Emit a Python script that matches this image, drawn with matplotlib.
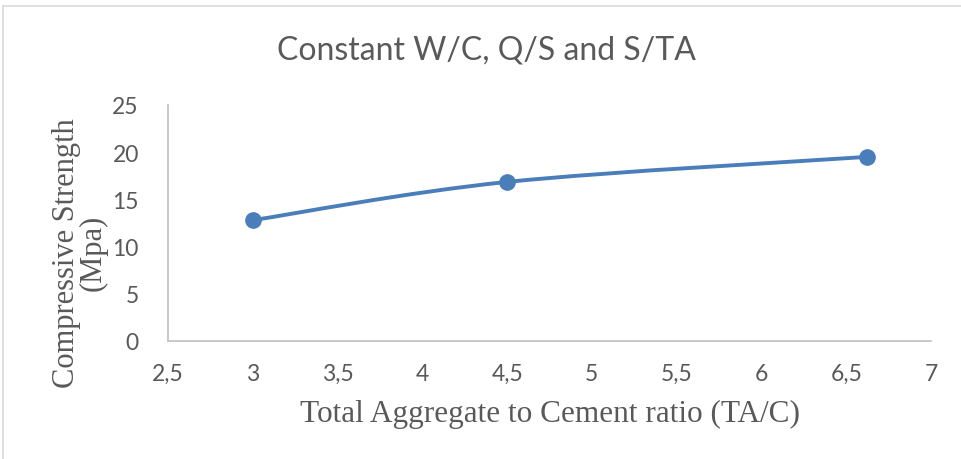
import numpy as np
import matplotlib
matplotlib.use('Agg')
import matplotlib.pyplot as plt
from matplotlib.path import Path
from matplotlib.patches import PathPatch
from matplotlib.lines import Line2D
from matplotlib.ticker import FuncFormatter

# data
ratio = [3.0, 4.5, 6.62]
strength = [12.8, 16.85, 19.5]
xticks = [2.5, 3, 3.5, 4, 4.5, 5, 5.5, 6, 6.5, 7]
yticks = [0, 5, 10, 15, 20, 25]

blue = '#4a7ebb'
grey = '#595959'

fig = plt.figure(figsize=(9.61, 4.6), dpi=100)
ax = fig.add_axes([168/961, 1 - 342/460, (931 - 168)/961, (342 - 106)/460])

# smoothed line like Excel (catmull-rom as bezier)
pts = np.column_stack([ratio, strength])
verts = [tuple(pts[0])]
codes = [Path.MOVETO]
n = len(pts)
for i in range(n - 1):
    p0 = pts[max(i - 1, 0)]
    p1 = pts[i]
    p2 = pts[i + 1]
    p3 = pts[min(i + 2, n - 1)]
    c1 = p1 + (p2 - p0) / 6
    c2 = p2 - (p3 - p1) / 6
    verts += [tuple(c1), tuple(c2), tuple(p2)]
    codes += [Path.CURVE4] * 3
ax.add_patch(PathPatch(Path(verts, codes), fill=False, edgecolor=blue, lw=2.8,
                       capstyle='round', zorder=2))
ax.plot(ratio, strength, 'o', color=blue, markersize=11, zorder=3)

ax.set_xlim(2.5, 7)
ax.set_ylim(0, 25)
ax.set_xticks(xticks)
ax.set_yticks(yticks)
fmt = FuncFormatter(lambda v, p: ('%g' % v).replace('.', ','))
ax.xaxis.set_major_formatter(fmt)
ax.yaxis.set_major_formatter(fmt)
ax.tick_params(length=0, labelsize=16.5, labelcolor=grey, pad=16, labelfontfamily='Lato')
ax.tick_params(axis='y', pad=21)
for s in ['top', 'right']:
    ax.spines[s].set_visible(False)
for s in ['left', 'bottom']:
    ax.spines[s].set_color('#bfbfbf')
    ax.spines[s].set_linewidth(1.2)

fig.text(486/961, 1 - 51/460, 'Constant W/C, Q/S and S/TA', ha='center', va='center',
         fontsize=23, color=grey, family='Lato')
fig.text(550/961, 1 - 414/460, 'Total Aggregate to Cement ratio (TA/C)', ha='center',
         va='center', fontsize=22.5, color=grey, family='Liberation Serif')
fig.text(80/961, 1 - 253/460, 'Compressive Strength\n(Mpa)', ha='center', va='center',
         rotation=90, fontsize=22, color=grey, family='Liberation Serif', linespacing=0.9)

# outer frame
fig.add_artist(Line2D([3/961, 3/961], [0, 1 - 7/460], color='#d9d9d9', lw=1.2))
fig.add_artist(Line2D([3/961, 1], [1 - 7/460, 1 - 7/460], color='#d9d9d9', lw=1.2))

fig.savefig('out.png', dpi=100)
